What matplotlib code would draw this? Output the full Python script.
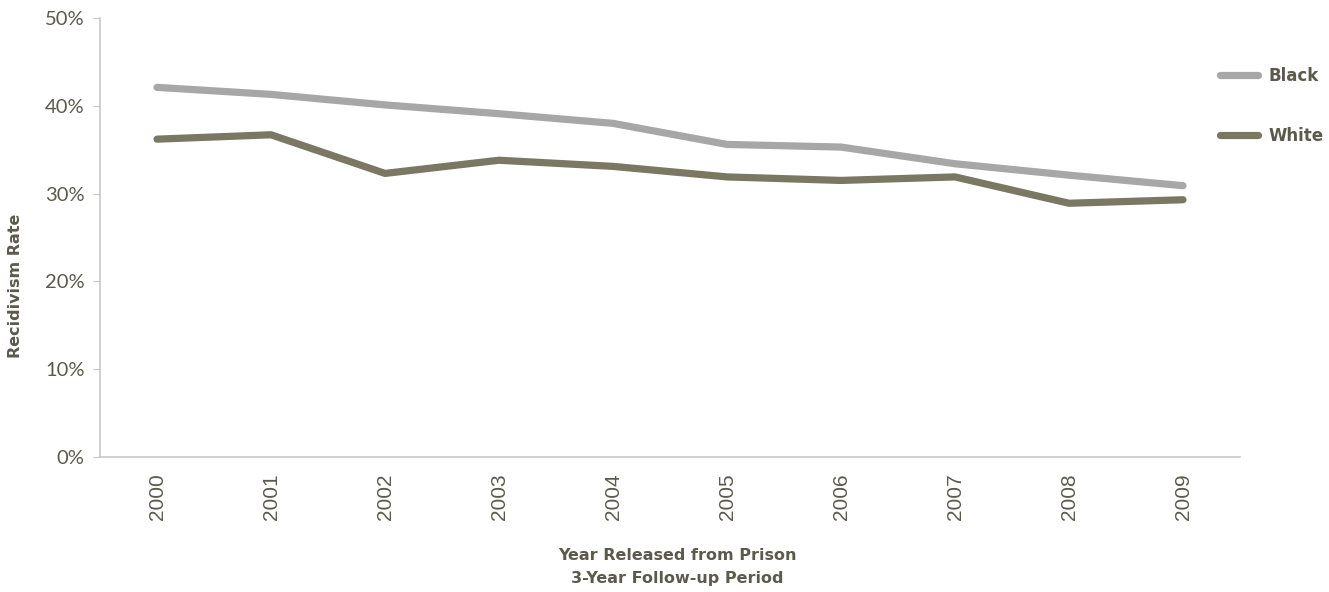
import matplotlib.pyplot as plt
import numpy as np

# recidivism rate by year released (3-year follow-up)
years = ['2000', '2001', '2002', '2003', '2004', '2005', '2006', '2007', '2008', '2009']
black_rate = [42.1, 41.3, 40.1, 39.1, 38.0, 35.6, 35.3, 33.4, 32.1, 30.9]
white_rate = [36.2, 36.7, 32.3, 33.8, 33.1, 31.9, 31.5, 31.9, 28.9, 29.3]

text_color = '#5b5a4c'
axis_color = '#c8c8c8'
bold_font = 'DejaVu Sans'

fig = plt.figure(figsize=(13.29, 5.92), dpi=100)
ax = fig.add_axes([100 / 1329, 135 / 592, 1140 / 1329, 439 / 592])

x = np.arange(len(years))
ax.plot(x, black_rate, color='#a7a7a7', lw=5.2, solid_capstyle='round', label='Black')
ax.plot(x, white_rate, color='#7a7863', lw=5.2, solid_capstyle='round', label='White')

ax.set_xlim(-0.5, len(years) - 0.5)
ax.set_ylim(0, 50)
ax.set_yticks(np.arange(0, 51, 10))
ax.set_yticklabels([f'{v}%' for v in range(0, 51, 10)], fontsize=14.5,
                   color=text_color, family='Lato')
ax.set_xticks(x)
ax.set_xticklabels(years, rotation=90, fontsize=15, color=text_color,
                   family='Liberation Sans')

for side in ['top', 'right']:
    ax.spines[side].set_visible(False)
for side in ['left', 'bottom']:
    ax.spines[side].set_color(axis_color)
    ax.spines[side].set_linewidth(1.2)
ax.tick_params(axis='y', length=5, color=axis_color, pad=6)
ax.tick_params(axis='x', length=0, pad=12)

fig.text(16 / 1329, 1 - 286 / 592, 'Recidivism Rate', rotation=90, ha='center', va='center',
         fontsize=11.5, fontweight='bold', color=text_color, family=bold_font)
fig.text(677 / 1329, 1 - 555 / 592, 'Year Released from Prison', ha='center', va='center',
         fontsize=11.5, fontweight='bold', color=text_color, family=bold_font)
fig.text(677 / 1329, 1 - 578 / 592, '3-Year Follow-up Period', ha='center', va='center',
         fontsize=11.5, fontweight='bold', color=text_color, family=bold_font)

leg = ax.legend(loc='upper left', bbox_to_anchor=(1205 / 1329, 1 - 52 / 592),
                bbox_transform=fig.transFigure, frameon=False, handlelength=2.3,
                handletextpad=0.6, labelspacing=2.5,
                prop={'family': bold_font, 'weight': 'bold', 'size': 12})
for t in leg.get_texts():
    t.set_color(text_color)

plt.savefig('out.png', dpi=100)
